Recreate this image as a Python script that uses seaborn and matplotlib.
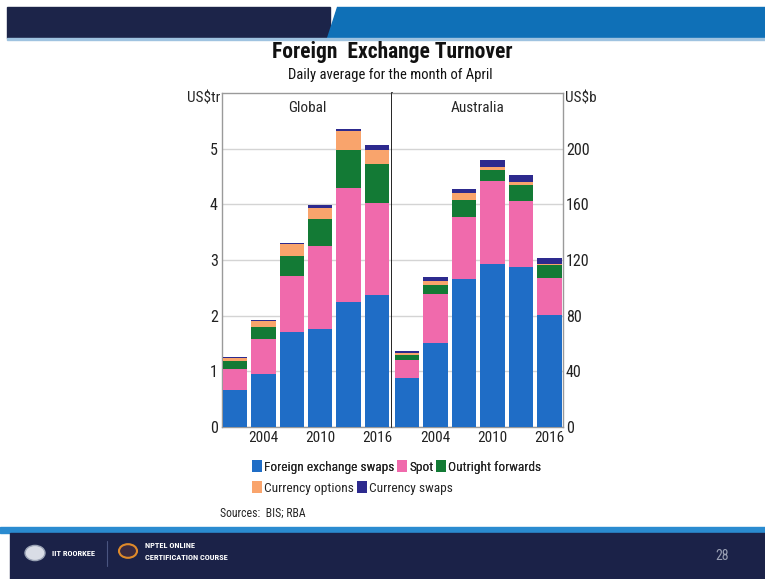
import numpy as np
import pandas as pd
import matplotlib
matplotlib.use("Agg")
import matplotlib.pyplot as plt
from matplotlib.patches import Rectangle, Polygon, Circle, Patch
from matplotlib.ticker import FixedLocator
import seaborn as sns

# ---------------- data ----------------
years = ["2001", "2004", "2007", "2010", "2013", "2016"]
series = ["Foreign exchange swaps", "Spot", "Outright forwards",
          "Currency options", "Currency swaps"]
colors = ["#1f6dc6", "#f06aac", "#137a35", "#f9a46c", "#2d2a8e"]

# Global, US$ trillion
global_fx_swaps = [0.66, 0.95, 1.71, 1.76, 2.24, 2.38]
global_spot = [0.39, 0.63, 1.00, 1.49, 2.05, 1.65]
global_outright = [0.13, 0.21, 0.36, 0.48, 0.68, 0.70]
global_options = [0.06, 0.12, 0.21, 0.21, 0.34, 0.25]
global_cswaps = [0.01, 0.02, 0.03, 0.04, 0.05, 0.08]

# Australia, US$ billion
aus_fx_swaps = [35.0, 60.2, 106.7, 117.1, 115.0, 80.5]
aus_spot = [13.1, 35.5, 44.5, 59.8, 47.4, 26.6]
aus_outright = [3.8, 6.0, 11.9, 7.6, 11.4, 9.6]
aus_options = [1.4, 3.5, 4.8, 2.2, 2.4, 0.7]
aus_cswaps = [1.5, 2.4, 3.1, 5.0, 5.2, 4.0]

xtick_labels = ["2004", "2010", "2016"]
xtick_pos = [1, 3, 5]
left_yticks = [0, 1, 2, 3, 4, 5]
right_yticks = [0, 40, 80, 120, 160, 200]


def make_df(vals):
    rows = []
    for name, v in zip(series, vals):
        for i, val in enumerate(v):
            rows.append({"idx": i, "series": name, "value": val})
    return pd.DataFrame(rows)


df_global = make_df([global_fx_swaps, global_spot, global_outright,
                     global_options, global_cswaps])
df_aus = make_df([aus_fx_swaps, aus_spot, aus_outright,
                  aus_options, aus_cswaps])

# ---------------- figure ----------------
sns.set_theme(style="white")
plt.rcParams["font.family"] = ["Roboto Condensed", "Liberation Sans", "DejaVu Sans"]

W, H = 765, 579
fig = plt.figure(figsize=(W / 100, H / 100), dpi=100)
fig.patch.set_facecolor("white")


def fx(px):
    return px / W


def fy(py):
    return 1 - py / H


# header bar
fig.patches.append(Rectangle((fx(7), fy(38)), fx(330 - 7), 31 / H,
                             transform=fig.transFigure, color="#1c2449", zorder=0))
fig.patches.append(Polygon([(fx(337), fy(7)), (1, fy(7)), (1, fy(38)), (fx(327), fy(38))],
                           closed=True, transform=fig.transFigure, color="#0f70b7", zorder=0))
fig.patches.append(Rectangle((fx(7), fy(39.5)), 1, 1.5 / H,
                             transform=fig.transFigure, color="#9fc3e0", zorder=0))
# footer bar
fig.patches.append(Rectangle((fx(0), fy(533)), 1, 6 / H,
                             transform=fig.transFigure, color="#2a8bd0", zorder=0))
fig.patches.append(Rectangle((fx(10), 0), 1, fy(533),
                             transform=fig.transFigure, color="#1b2248", zorder=0))
fig.patches.append(Circle((fx(35), fy(553)), 10 / W, transform=fig.transFigure,
                          facecolor="#d9dde6", edgecolor="#9aa3b5", lw=1, zorder=1))
fig.patches.append(Circle((fx(128), fy(551)), 9 / W, transform=fig.transFigure,
                          facecolor="#3a2a40", edgecolor="#e08a2a", lw=1.5, zorder=1))
fig.lines.append(plt.Line2D([fx(107), fx(107)], [fy(541), fy(566)], transform=fig.transFigure,
                            color="#4a5580", lw=0.8))
fig.text(fx(52), fy(553), "IIT ROORKEE", color="white", fontsize=6,
         fontweight="bold", va="center", ha="left")
fig.text(fx(145), fy(546), "NPTEL ONLINE", color="white", fontsize=6,
         fontweight="bold", va="center", ha="left")
fig.text(fx(145), fy(558), "CERTIFICATION COURSE", color="white", fontsize=6,
         fontweight="bold", va="center", ha="left")
fig.text(fx(722), fy(556), "28", color="#9aa0b4", fontsize=10, va="center", ha="center")

# titles
fig.text(fx(392), fy(52), "Foreign  Exchange Turnover", fontsize=15.5, fontweight="bold",
         ha="center", va="center", color="#111111")
fig.text(fx(390), fy(75), "Daily average for the month of April", fontsize=10.5,
         ha="center", va="center", color="#111111")

# axes
axL = fig.add_axes([fx(222), fy(427), fx(392 - 222), (427 - 93) / H])
axR = fig.add_axes([fx(392), fy(427), fx(563 - 392), (427 - 93) / H])

hue_order = series[::-1]
pal = dict(zip(series, colors))
for ax, df in [(axL, df_global), (axR, df_aus)]:
    sns.histplot(data=df, x="idx", weights="value", hue="series", hue_order=hue_order,
                 multiple="stack", discrete=True, shrink=0.86, palette=pal,
                 alpha=1, linewidth=0, legend=False, ax=ax, zorder=3)
    ax.set_xlabel("")
    ax.set_ylabel("")
    ax.set_xticks(xtick_pos)
    ax.set_xticklabels(xtick_labels)
    ax.xaxis.set_minor_locator(FixedLocator([0.5, 1.5, 2.5, 3.5, 4.5]))
    ax.tick_params(axis="x", which="major", length=0, pad=3, labelsize=11, colors="#222222")
    ax.tick_params(axis="x", which="minor", length=4, direction="in", color="#888888", width=0.8)
    ax.yaxis.grid(True, color="#d4d4d4", lw=1)
    ax.set_axisbelow(True)
    for s in ax.spines.values():
        s.set_color("#9a9a9a")
        s.set_linewidth(1)

axL.set_xlim(-0.45, 5.52)
axR.set_xlim(-0.52, 5.48)
axL.set_ylim(0, 6)
axR.set_ylim(0, 240)
axL.set_yticks(left_yticks)
axR.set_yticks(right_yticks)
axL.tick_params(axis="y", length=0, pad=3, labelsize=11.5, colors="#222222")
axR.yaxis.tick_right()
axR.tick_params(axis="y", length=0, pad=2, labelsize=11.5, colors="#222222",
                labelleft=False, labelright=True)
axL.spines["right"].set_color("black")
axL.spines["right"].set_linewidth(1.2)
axL.spines["right"].set_zorder(5)
axR.spines["left"].set_visible(False)

axL.text(0.5, 0.955, "Global", transform=axL.transAxes, ha="center", va="center", fontsize=11)
axR.text(0.5, 0.955, "Australia", transform=axR.transAxes, ha="center", va="center", fontsize=11)
fig.text(fx(220), fy(98), "US$tr", ha="right", va="center", fontsize=11)
fig.text(fx(565), fy(98), "US$b", ha="left", va="center", fontsize=11)

# legend
handles = [Patch(facecolor=c, edgecolor="none") for c in colors]
leg_kw = dict(loc="center left", frameon=False, handlelength=0.75, handleheight=0.9,
              handletextpad=0.15, columnspacing=0.2, fontsize=9.6,
              borderpad=0, borderaxespad=0)
leg1 = fig.legend(handles[:3], series[:3], bbox_to_anchor=(fx(252), fy(467)), ncol=3, **leg_kw)
leg2 = fig.legend(handles[3:], series[3:], bbox_to_anchor=(fx(252), fy(488)), ncol=2, **leg_kw)
fig.add_artist(leg1)

fig.text(fx(220), fy(513), "Sources:  BIS; RBA", ha="left", va="center", fontsize=8.5)

fig.savefig("out.png", dpi=100)
